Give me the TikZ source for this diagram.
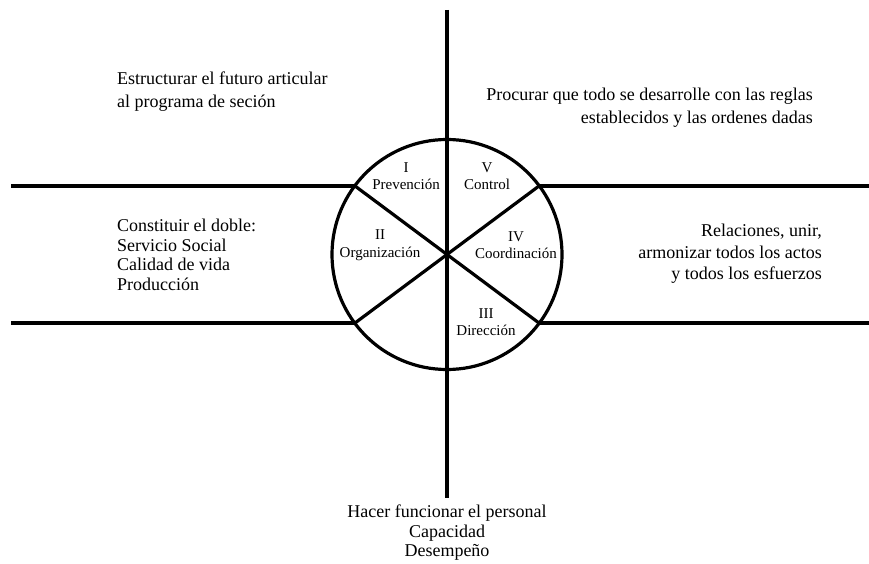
\documentclass[tikz,border=0pt]{standalone}
\usepackage{fontspec}
\setmainfont{Liberation Serif}
\usetikzlibrary{calc}
\begin{document}
\begin{tikzpicture}[x=1pt,y=-1pt,
  stroke/.style={line width=3.2pt},
  bigtxt/.style={font=\fontsize{18}{23}\selectfont,inner sep=0pt},
  segtxt/.style={font=\fontsize{15}{17.5}\selectfont,inner sep=0pt,align=center}]
\useasboundingbox (0,0) rectangle (869,564);
\coordinate (c) at (447,254.5);
\draw[stroke] (c) circle (115);
\coordinate (ul) at ($(c)+(-92,-68.5)$);
\coordinate (ur) at ($(c)+(92,-68.5)$);
\coordinate (ll) at ($(c)+(-92,68.5)$);
\coordinate (lr) at ($(c)+(92,68.5)$);
\coordinate (top) at (447,10);
\coordinate (bot) at (447,498);
\coordinate (lu) at (11,186);
\coordinate (ru) at (869,186);
\coordinate (lo) at (11,323);
\coordinate (ro) at (869,323);
\draw[stroke] (ul) -- (lr);
\draw[stroke] (ur) -- (ll);
\draw[stroke] (top) -- (bot);
\draw[stroke] (lu) -- (ul);
\draw[stroke] (ur) -- (ru);
\draw[stroke] (lo) -- (ll);
\draw[stroke] (lr) -- (ro);
% segment labels
\node[segtxt] (s1) at (406,176) {I\\Prevención};
\node[segtxt] (s5) at (487,176) {V\\Control};
\node[segtxt] (s2) at (380,245) {II\\Organización};
\node[segtxt] (s4) at (516,245) {IV\\Coordinación};
\node[segtxt] (s3) at (486,322) {III\\Dirección};
% outer texts
\node[bigtxt,anchor=west,align=left] (t1) at (117,92) {Estructurar el futuro articular\\al programa de seción};
\node[bigtxt,anchor=east,align=right] (t2) at (813,108) {Procurar que todo se desarrolle con las reglas\\establecidos y las ordenes dadas};
\node[bigtxt,anchor=west,align=left,font=\fontsize{18}{19.5}\selectfont] (t3) at (117,255) {Constituir el doble:\\Servicio Social\\Calidad de vida\\Producción};
\node[bigtxt,anchor=east,align=right,font=\fontsize{18}{21.5}\selectfont] (t4) at (822,254) {Relaciones, unir,\\armonizar todos los actos\\y todos los esfuerzos};
\node[bigtxt,align=center,font=\fontsize{18}{19.5}\selectfont] (t5) at (447,533) {Hacer funcionar el personal\\Capacidad\\Desempeño};
\end{tikzpicture}
\end{document}
